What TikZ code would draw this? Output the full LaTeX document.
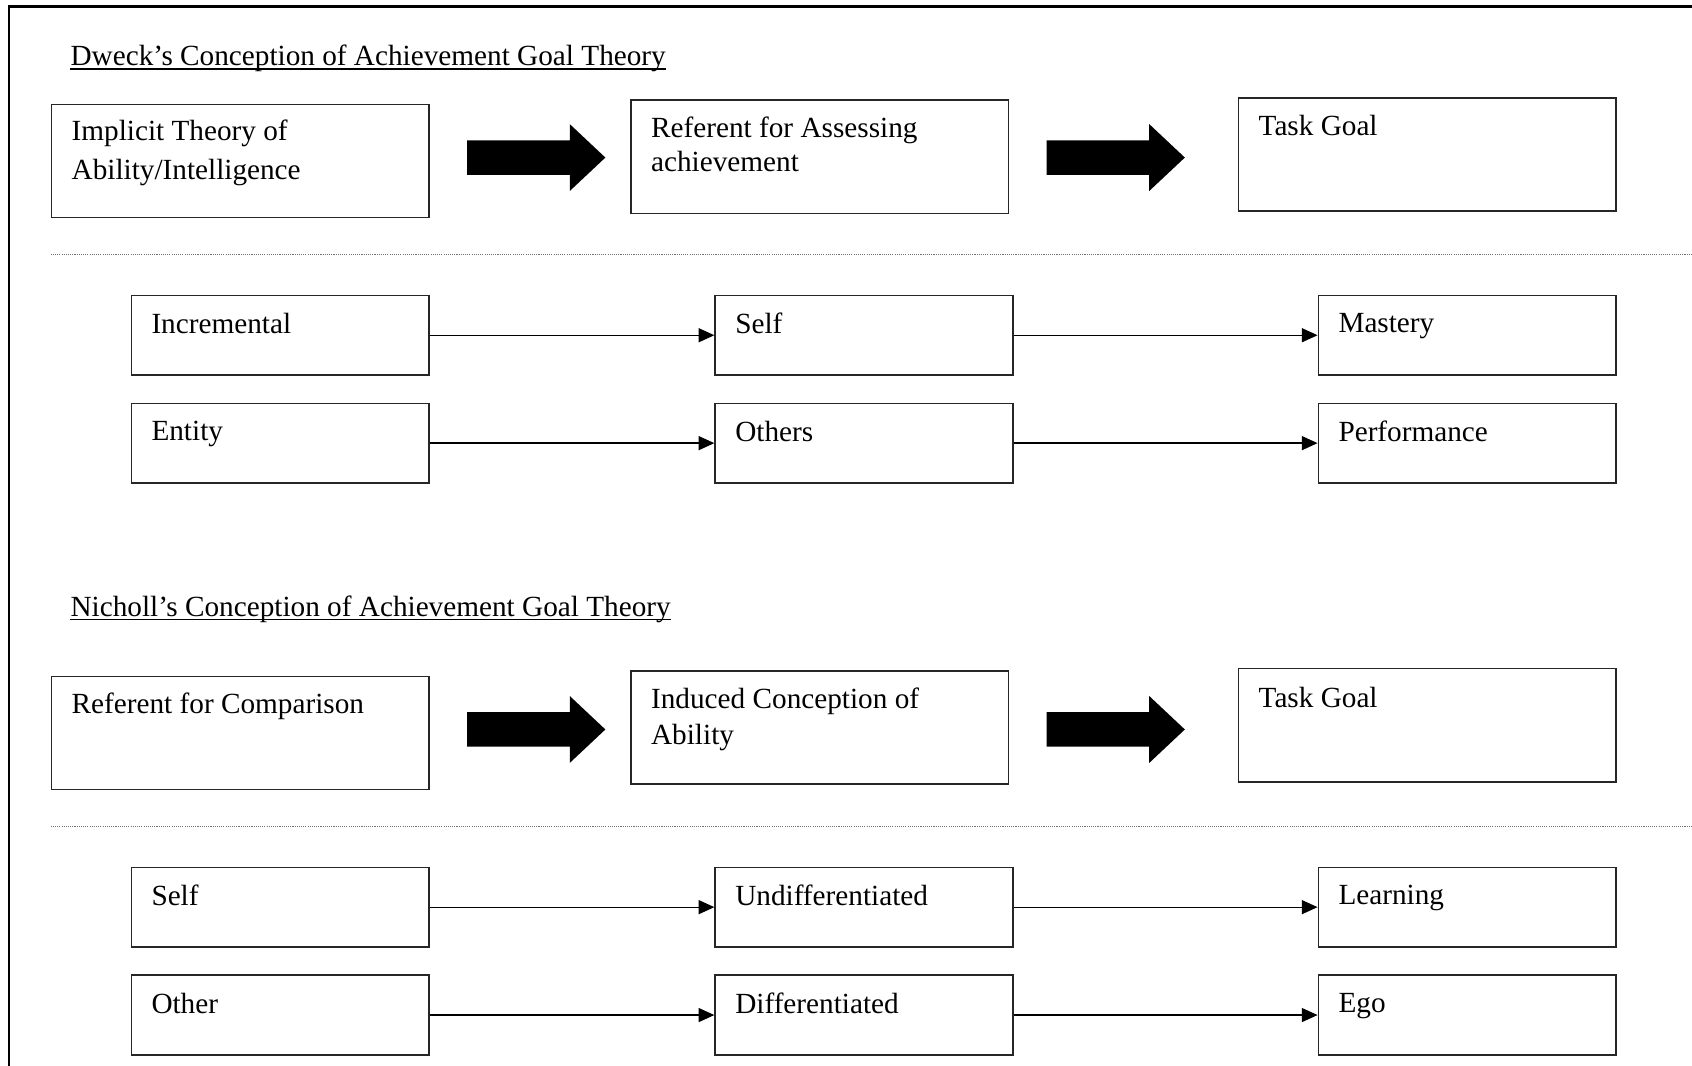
\documentclass[tikz,border=0pt]{standalone}
\usepackage{fontspec}
\setmainfont{Liberation Serif}
\usetikzlibrary{arrows.meta,calc}

\begin{document}
\begin{tikzpicture}[x=0.5pt,y=-0.5pt,
  txt/.style={font=\fontsize{13.55}{17}\selectfont},
  bigbox/.style={draw=black!85, line width=0.65pt, minimum width=175pt, minimum height=52.5pt, anchor=north west, inner sep=0pt},
  rowbox/.style={draw=black!85, line width=0.65pt, minimum width=138pt, minimum height=37pt, anchor=north west, inner sep=0pt},
  lbl/.style={txt, anchor=north west, inner sep=0pt, align=left},
  ttl/.style={txt, anchor=base west, inner sep=0pt},
  flow/.style={line width=0.6pt, -{Triangle[length=7.3pt,width=6.5pt]}},
  sep/.style={draw=black!55, line width=0.5pt, dash pattern=on 0.5pt off 0.5pt},
  bigarrow/.pic={\fill (0,-16) -- (95,-16) -- (95,-31) -- (128,0) -- (95,31) -- (95,16) -- (0,16) -- cycle;}
]
\clip (0,0) rectangle (1568,987);
\fill[white] (0,0) rectangle (1568,987);

% outer frame (runs off the right and bottom edges)
\draw[line width=1pt] (8,1000) -- (8,6) -- (1600,6);

% ---------- Dweck ----------
\node[ttl] (t1) at (65,61) {Dweck’s Conception of Achievement Goal Theory};
\draw[line width=0.6pt] ($(t1.base west)+(0,3)$) -- ($(t1.base east)+(0,3)$);

\node[bigbox] (a1) at (47,96) {};
\node[bigbox] (a2) at (584,92) {};
\node[bigbox] (a3) at (1147,90) {};
\node[lbl, font=\fontsize{13.55}{18}\selectfont] (la1) at ($(a1.north west)+(19,15)$) {Implicit Theory of\\Ability/Intelligence};
\node[lbl, font=\fontsize{13.55}{15.7}\selectfont] (la2) at ($(a2.north west)+(19,16)$) {Referent for Assessing\\achievement};
\node[lbl] (la3) at ($(a3.north west)+(19,16)$) {Task Goal};

\pic at (433,146) {bigarrow};
\pic at (970,146) {bigarrow};

\draw[sep] (47,236) -- (1600,236);

\node[rowbox] (b1) at (121,273) {};
\node[rowbox] (b2) at (662,273) {};
\node[rowbox] (b3) at (1221,273) {};
\node[rowbox] (b4) at (121,373) {};
\node[rowbox] (b5) at (662,373) {};
\node[rowbox] (b6) at (1221,373) {};
\node[lbl] (lb1) at ($(b1.north west)+(19,17)$) {Incremental};
\node[lbl] (lb2) at ($(b2.north west)+(19,17)$) {Self};
\node[lbl] (lb3) at ($(b3.north west)+(19,17)$) {Mastery};
\node[lbl] (lb4) at ($(b4.north west)+(19,17)$) {Entity};
\node[lbl] (lb5) at ($(b5.north west)+(19,17)$) {Others};
\node[lbl] (lb6) at ($(b6.north west)+(19,17)$) {Performance};
\draw[flow] (b1.east) -- (b2.west);
\draw[flow] (b2.east) -- (b3.west);
\draw[flow] (b4.east) -- (b5.west);
\draw[flow] (b5.east) -- (b6.west);

% ---------- Nicholl ----------
\node[ttl] (t2) at (65,571) {Nicholl’s Conception of Achievement Goal Theory};
\draw[line width=0.6pt] ($(t2.base west)+(0,3)$) -- ($(t2.base east)+(0,3)$);

\node[bigbox] (c1) at (47,626) {};
\node[bigbox] (c2) at (584,621) {};
\node[bigbox] (c3) at (1147,619) {};
\node[lbl] (lc1) at ($(c1.north west)+(19,16)$) {Referent for Comparison};
\node[lbl, font=\fontsize{13.55}{16.5}\selectfont] (lc2) at ($(c2.north west)+(19,16)$) {Induced Conception of\\Ability};
\node[lbl] (lc3) at ($(c3.north west)+(19,17)$) {Task Goal};

\pic at (433,676) {bigarrow};
\pic at (970,676) {bigarrow};

\draw[sep] (47,766) -- (1600,766);

\node[rowbox] (d1) at (121,803) {};
\node[rowbox] (d2) at (662,803) {};
\node[rowbox] (d3) at (1221,803) {};
\node[rowbox] (d4) at (121,903) {};
\node[rowbox] (d5) at (662,903) {};
\node[rowbox] (d6) at (1221,903) {};
\node[lbl] (ld1) at ($(d1.north west)+(19,17)$) {Self};
\node[lbl] (ld2) at ($(d2.north west)+(19,17)$) {Undifferentiated};
\node[lbl] (ld3) at ($(d3.north west)+(19,17)$) {Learning};
\node[lbl] (ld4) at ($(d4.north west)+(19,17)$) {Other};
\node[lbl] (ld5) at ($(d5.north west)+(19,17)$) {Differentiated};
\node[lbl] (ld6) at ($(d6.north west)+(19,17)$) {Ego};
\draw[flow] (d1.east) -- (d2.west);
\draw[flow] (d2.east) -- (d3.west);
\draw[flow] (d4.east) -- (d5.west);
\draw[flow] (d5.east) -- (d6.west);
\end{tikzpicture}
\end{document}
